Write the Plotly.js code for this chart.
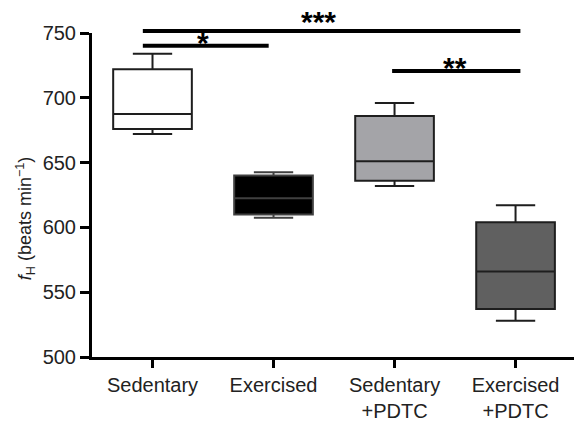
<!DOCTYPE html>
<html>
<head>
<meta charset="utf-8">
<script src="https://cdn.plot.ly/plotly-3.0.1.min.js"></script>
<style>html,body{margin:0;padding:0;background:#fff}#chart{width:574px;height:422px}</style>
</head>
<body>
<div id="chart"></div>
<script>
// Categories and box statistics (beats min^-1)
const categories = ["Sedentary", "Exercised", "Sedentary<br>+PDTC", "Exercised<br>+PDTC"];
const lowerFence = [672, 607.5, 632, 528];
const q1 =         [676, 610, 636, 537];
const median =     [687.5, 622.5, 651, 566];
const q3 =         [722, 640, 686, 604];
const upperFence = [734, 642.5, 696, 617];
const fills = ["#ffffff", "#000000", "#a4a4a8", "#606060"];
const outlines = ["#1e1e1e", "#404040", "#1e1e1e", "#1e1e1e"];

// Significance bars: [x start, x end] in category units, level in data units
const sigStart = [-0.08, -0.08, 1.98];
const sigEnd =   [3.04, 0.96, 3.04];
const sigLevel = [751.5, 740.2, 720.7];
const sigLabel = ["***", "*", "**"];
const sigLabelX = [1.37, 0.42, 2.5];
const sigLabelY = [761.6, 746.1, 726.8];

const yMin = 500, yMax = 750;
const toPaper = v => (v - yMin) / (yMax - yMin);
const FONT = "Liberation Sans, Arial, sans-serif";

const traces = categories.map((c, i) => ({
  type: "box",
  x: [i],
  q1: [q1[i]], median: [median[i]], q3: [q3[i]],
  lowerfence: [lowerFence[i]], upperfence: [upperFence[i]],
  fillcolor: fills[i],
  line: {color: outlines[i], width: 2},
  width: 0.65,
  whiskerwidth: 0.5,
  boxpoints: false,
  hoverinfo: "skip",
  showlegend: false
}));

const shapes = sigLevel.map((lv, i) => ({
  type: "line", xref: "x", yref: "paper",
  x0: sigStart[i], x1: sigEnd[i], y0: toPaper(lv), y1: toPaper(lv),
  line: {color: "#000", width: 4}
}));

const annotations = sigLabel.map((t, i) => ({
  text: "<b>" + t + "</b>", xref: "x", yref: "paper",
  x: sigLabelX[i], y: toPaper(sigLabelY[i]),
  xanchor: "center", yanchor: "middle", yshift: -4,
  showarrow: false,
  font: {family: FONT, size: 30, color: "#000"}
}));
annotations.push({
  text: "<i>f</i><sub>H</sub> (beats min<sup>−1</sup>)",
  xref: "paper", yref: "paper", x: -0.138, y: 0.43,
  xanchor: "center", yanchor: "middle", textangle: -90,
  showarrow: false,
  font: {family: FONT, size: 18, color: "#222"}
});

const layout = {
  width: 574, height: 422,
  margin: {l: 92, r: 0, t: 33, b: 65},
  paper_bgcolor: "#fff", plot_bgcolor: "#fff",
  font: {family: FONT, size: 20, color: "#222"},
  xaxis: {
    range: [-0.5, 3.483],
    tickmode: "array", tickvals: [0, 1, 2, 3], ticktext: categories,
    showgrid: false, zeroline: false,
    showline: true, linecolor: "#000", linewidth: 3,
    ticks: "outside", ticklen: 8, tickwidth: 3, tickcolor: "#000",
    ticklabelstandoff: 0,
    tickfont: {size: 20, color: "#222"}
  },
  yaxis: {
    range: [yMin, yMax],
    tickvals: [500, 550, 600, 650, 700, 750],
    showgrid: false, zeroline: false,
    showline: true, linecolor: "#000", linewidth: 3,
    ticks: "outside", ticklen: 9, tickwidth: 3, tickcolor: "#000",
    tickfont: {size: 20, color: "#222"}
  },
  shapes: shapes,
  annotations: annotations,
  showlegend: false
};

Plotly.newPlot("chart", traces, layout, {displayModeBar: false, staticPlot: true});
</script>
</body>
</html>
